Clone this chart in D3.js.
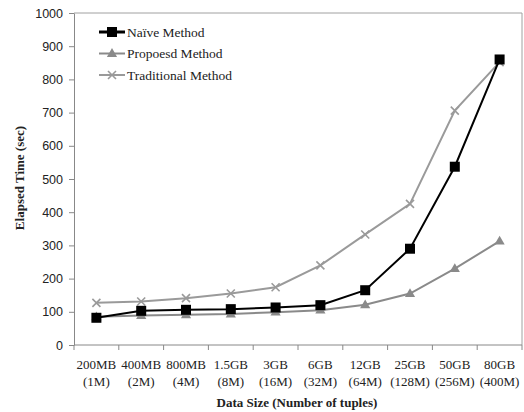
<!DOCTYPE html>
<html>
<head>
<meta charset="utf-8">
<script src="https://cdn.jsdelivr.net/npm/d3@7"></script>
<style>
  body { margin: 0; background: #fff; }
  svg text { fill: #222; }
</style>
</head>
<body>
<div id="chart"></div>
<script>
var sizes = ["200MB", "400MB", "800MB", "1.5GB", "3GB", "6GB", "12GB", "25GB", "50GB", "80GB"];
var tuples = ["(1M)", "(2M)", "(4M)", "(8M)", "(16M)", "(32M)", "(64M)", "(128M)", "(256M)", "(400M)"];
var naive = [82, 103, 106, 108, 113, 120, 165, 290, 537, 860];
var proposed = [85, 89, 91, 93, 99, 105, 121, 155, 230, 313];
var traditional = [127, 131, 141, 155, 174, 240, 333, 425, 706, 852];
var yTicks = [0, 100, 200, 300, 400, 500, 600, 700, 800, 900, 1000];

var series = [
  { name: "Naïve Method", values: naive, color: "#000", symbol: "square" },
  { name: "Propoesd Method", values: proposed, color: "#8a8a8a", symbol: "triangle" },
  { name: "Traditional Method", values: traditional, color: "#9a9a9a", symbol: "cross" }
];

var width = 524, height = 412;
var margin = { left: 74, right: 2, top: 13, bottom: 67 };

var svg = d3.select("#chart").append("svg")
    .attr("width", width).attr("height", height);

var x = d3.scaleBand().domain(sizes)
    .range([margin.left, width - margin.right]);
var y = d3.scaleLinear().domain([0, 1000])
    .range([height - margin.bottom, margin.top]);

// frame top/right
svg.append("path")
    .attr("d", "M" + margin.left + "," + y(1000) + "H" + (width - margin.right) + "V" + y(0))
    .attr("fill", "none").attr("stroke", "#a0a0a0");

// y axis
var yAxis = svg.append("g")
    .attr("transform", "translate(" + margin.left + ",0)")
    .call(d3.axisLeft(y).tickValues(yTicks).tickFormat(d3.format("d")).tickSize(5).tickSizeOuter(0));
yAxis.select(".domain").attr("stroke", "#888");
yAxis.selectAll(".tick line").attr("stroke", "#888");
yAxis.selectAll("text")
    .attr("x", -11)
    .style("font-family", "'Liberation Sans', sans-serif")
    .style("font-size", "12.5px").attr("fill", "#222");

// x axis with boundary ticks
var xAxis = svg.append("g")
    .attr("transform", "translate(0," + y(0) + ")");
xAxis.append("line")
    .attr("x1", margin.left).attr("x2", width - margin.right)
    .attr("stroke", "#888");
xAxis.selectAll(".bt").data(sizes.concat(["end"])).join("line")
    .attr("class", "bt")
    .attr("x1", (d, i) => i < sizes.length ? x(d) : x(sizes[sizes.length - 1]) + x.bandwidth())
    .attr("x2", (d, i) => i < sizes.length ? x(d) : x(sizes[sizes.length - 1]) + x.bandwidth())
    .attr("y1", 0).attr("y2", 5)
    .attr("stroke", "#888");
var lbl = xAxis.selectAll(".lbl").data(sizes).join("text")
    .attr("class", "lbl")
    .attr("text-anchor", "middle")
    .style("font-family", "'Liberation Serif', serif")
    .style("font-size", "13px");
lbl.append("tspan")
    .attr("x", d => x(d) + x.bandwidth() / 2).attr("y", 24)
    .text(d => d);
lbl.append("tspan")
    .attr("x", d => x(d) + x.bandwidth() / 2).attr("y", 41)
    .text((d, i) => tuples[i]);

// axis titles
svg.append("text")
    .attr("x", 297).attr("y", 407)
    .attr("text-anchor", "middle")
    .style("font-family", "'Liberation Serif', serif")
    .style("font-weight", "bold").style("font-size", "13px")
    .text("Data Size (Number of tuples)");
svg.append("text")
    .attr("transform", "translate(24," + 178 + ") rotate(-90)")
    .attr("text-anchor", "middle")
    .style("font-family", "'Liberation Serif', serif")
    .style("font-weight", "bold").style("font-size", "13px")
    .text("Elapsed Time (sec)");

var cx = d => x(d) + x.bandwidth() / 2;
var line = d3.line().x((d, i) => cx(sizes[i])).y(d => y(d));

function drawMarker(g, s, px, py) {
  if (s.symbol === "square") {
    g.append("rect").attr("x", px - 5).attr("y", py - 5)
      .attr("width", 10).attr("height", 10).attr("fill", s.color);
  } else if (s.symbol === "triangle") {
    g.append("path")
      .attr("d", d3.symbol(d3.symbolTriangle, 45)())
      .attr("transform", "translate(" + px + "," + (py + 0.5) + ")")
      .attr("fill", s.color);
  } else {
    g.append("path")
      .attr("d", "M-4,-4L4,4M-4,4L4,-4")
      .attr("transform", "translate(" + px + "," + py + ")")
      .attr("stroke", s.color).attr("stroke-width", 1.6).attr("fill", "none");
  }
}

// draw series: proposed & traditional first, naive on top
[series[2], series[1], series[0]].forEach(s => {
  svg.append("path")
    .datum(s.values)
    .attr("d", line)
    .attr("fill", "none")
    .attr("stroke", s.color)
    .attr("stroke-width", 2);
  var g = svg.append("g");
  s.values.forEach((v, i) => drawMarker(g, s, cx(sizes[i]), y(v)));
});

// legend
var leg = svg.append("g");
series.forEach((s, i) => {
  var ly = 32 + i * 21.5;
  leg.append("line")
    .attr("x1", 99).attr("x2", 125).attr("y1", ly).attr("y2", ly)
    .attr("stroke", s.color).attr("stroke-width", s.symbol === "square" ? 3 : 2);
  drawMarker(leg, s, 112, ly);
  leg.append("text")
    .attr("x", 127).attr("y", ly + 4.5)
    .style("font-family", "'Liberation Serif', serif")
    .style("font-size", "13.5px")
    .text(s.name);
});
</script>
</body>
</html>
